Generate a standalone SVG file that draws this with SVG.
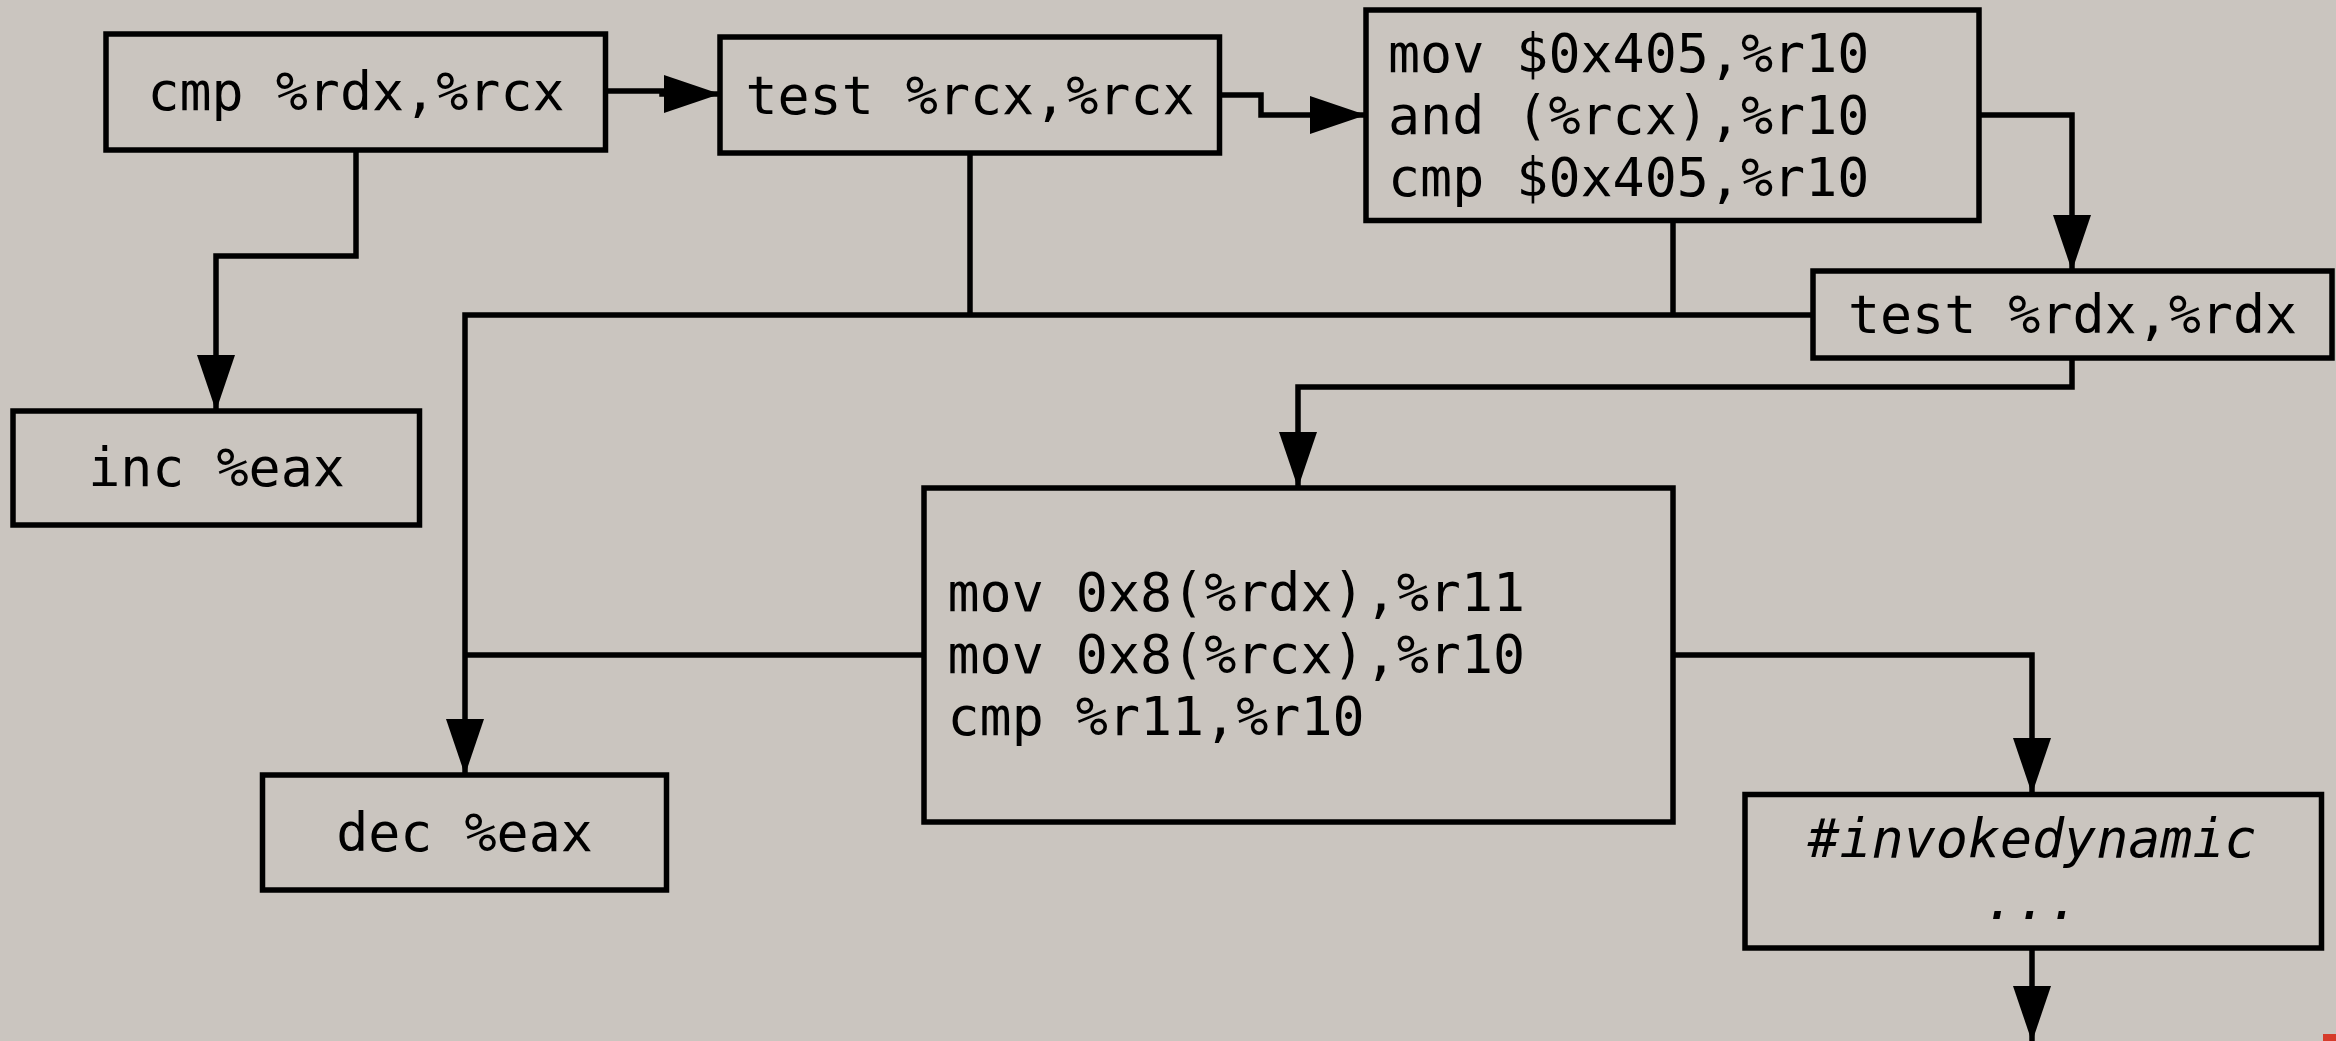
<svg xmlns="http://www.w3.org/2000/svg" width="2336" height="1041" viewBox="0 0 2336 1041">
<style>
.box{fill:#cac5bf;stroke:#000;stroke-width:5.5}
.t{font-family:"DejaVu Sans Mono","Liberation Mono",monospace;font-size:53.3px;fill:#000}
.c{text-anchor:middle}
.i{font-style:italic}
.e{fill:none;stroke:#000;stroke-width:5.5;stroke-linejoin:miter}
</style>
<defs>
<marker id="ah" markerUnits="userSpaceOnUse" markerWidth="60" markerHeight="40" refX="56" refY="19" orient="auto" overflow="visible">
<path d="M0,0 L56,19 L0,38 z" fill="#000"/>
</marker>
</defs>
<rect width="2336" height="1041" fill="#cac5bf"/>
<g id="connectors">
<path class="e" d="M606,91 H662 V94 H720" marker-end="url(#ah)"/>
<path class="e" d="M1219,95 H1261 V115 H1366" marker-end="url(#ah)"/>
<path class="e" d="M1979,115 H2072 V271" marker-end="url(#ah)"/>
<path class="e" d="M356,150 V256 H216 V411" marker-end="url(#ah)"/>
<path class="e" d="M970,153 V315"/>
<path class="e" d="M1673,220 V315"/>
<path class="e" d="M1813,315 H465 V775" marker-end="url(#ah)"/>
<path class="e" d="M924,655 H465"/>
<path class="e" d="M2072,358 V387 H1298 V488" marker-end="url(#ah)"/>
<path class="e" d="M1673,655 H2032 V794" marker-end="url(#ah)"/>
<path class="e" d="M2032,948 V1042" marker-end="url(#ah)"/>
</g>
<g id="n_cmp_rdx_rcx">
<rect class="box" x="106" y="34" width="499.5" height="116"/>
<text class="t c" x="356" y="110">cmp %rdx,%rcx</text>
</g>
<g id="n_test_rcx">
<rect class="box" x="720" y="37" width="499.5" height="116"/>
<text class="t c" x="970" y="113.5">test %rcx,%rcx</text>
</g>
<g id="n_mov_and_cmp">
<rect class="box" x="1366" y="10" width="613" height="210.5"/>
<text class="t" x="1388" y="72">mov $0x405,%r10</text>
<text class="t" x="1388" y="134">and (%rcx),%r10</text>
<text class="t" x="1388" y="196">cmp $0x405,%r10</text>
</g>
<g id="n_test_rdx">
<rect class="box" x="1813" y="271" width="519" height="87"/>
<text class="t c" x="2072.5" y="333">test %rdx,%rdx</text>
</g>
<g id="n_inc">
<rect class="box" x="13" y="411" width="406.5" height="114"/>
<text class="t c" x="216.5" y="486">inc %eax</text>
</g>
<g id="n_mov_r11">
<rect class="box" x="924" y="488" width="749" height="334"/>
<text class="t" x="947.5" y="611">mov 0x8(%rdx),%r11</text>
<text class="t" x="947.5" y="673">mov 0x8(%rcx),%r10</text>
<text class="t" x="947.5" y="735">cmp %r11,%r10</text>
</g>
<g id="n_dec">
<rect class="box" x="262.5" y="775" width="404" height="115"/>
<text class="t c" x="464.5" y="851">dec %eax</text>
</g>
<g id="n_invokedynamic">
<rect class="box" x="1745" y="794.5" width="576.5" height="153.5"/>
<text class="t c i" x="2032" y="857">#invokedynamic</text>
<text class="t c i" x="2032" y="919">...</text>
</g>
<rect x="2323" y="1034" width="13" height="7" fill="#d63b2a"/>
</svg>
